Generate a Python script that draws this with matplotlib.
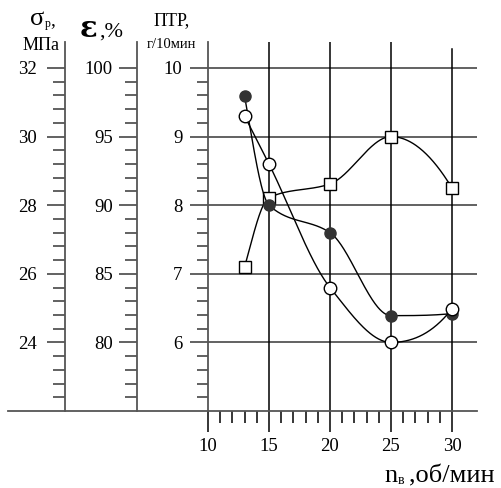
import numpy as np
import matplotlib
matplotlib.use("Agg")
import matplotlib.pyplot as plt
from matplotlib.lines import Line2D

plt.rcParams['font.family'] = ['Liberation Serif', 'DejaVu Serif']

# ---- data ----
n_rpm = [13, 15, 20, 25, 30]
sigma_vals = [31.18, 28.0, 27.2, 24.78, 24.84]   # filled circles, МПа
eps_vals = [96.5, 93.0, 84.0, 80.0, 82.45]       # open circles, %
ptr_vals = [7.1, 8.11, 8.31, 9.0, 8.25]          # squares, г/10мин

x_ticks = [10, 15, 20, 25, 30]
sigma_ticks = [24, 26, 28, 30, 32]
eps_ticks = [80, 85, 90, 95, 100]
ptr_ticks = [6, 7, 8, 9, 10]


def pchip(x, y, xs):
    x = np.asarray(x, float); y = np.asarray(y, float)
    h = np.diff(x); d = np.diff(y) / h
    n = len(x); m = np.zeros(n)
    for k in range(1, n - 1):
        if d[k - 1] * d[k] <= 0:
            m[k] = 0
        else:
            w1 = 2 * h[k] + h[k - 1]; w2 = h[k] + 2 * h[k - 1]
            m[k] = (w1 + w2) / (w1 / d[k - 1] + w2 / d[k])

    def endp(h0, h1, d0, d1):
        mm = ((2 * h0 + h1) * d0 - h0 * d1) / (h0 + h1)
        if np.sign(mm) != np.sign(d0):
            mm = 0
        elif np.sign(d0) != np.sign(d1) and abs(mm) > 3 * abs(d0):
            mm = 3 * d0
        return mm
    m[0] = endp(h[0], h[1], d[0], d[1])
    m[-1] = endp(h[-1], h[-2], d[-1], d[-2])
    ys = np.empty_like(xs)
    for i, xv in enumerate(xs):
        k = min(max(np.searchsorted(x, xv) - 1, 0), n - 2)
        t = (xv - x[k]) / h[k]
        h00 = 2 * t**3 - 3 * t**2 + 1; h10 = t**3 - 2 * t**2 + t
        h01 = -2 * t**3 + 3 * t**2; h11 = t**3 - t**2
        ys[i] = h00 * y[k] + h10 * h[k] * m[k] + h01 * y[k + 1] + h11 * h[k] * m[k + 1]
    return ys


W, H = 502, 488
fig = plt.figure(figsize=(W / 100, H / 100), dpi=100)

def fx(px): return px / W
def fy(py): return 1 - py / H

left_px, right_px, bot_px, top_px = 208, 477, 411, 42
rect = [fx(left_px), fy(bot_px), (right_px - left_px) / W, (bot_px - top_px) / H]
ax = fig.add_axes(rect)
ppu_x = 12.2
ppu_y = 68.6
ax.set_xlim(10, 10 + (right_px - left_px) / ppu_x)
ax.set_ylim(5, 5 + (bot_px - top_px) / ppu_y)

gray = '#555555'
for v in ptr_ticks:
    ax.axhline(v, color=gray, lw=1.3, zorder=1)
for xv in x_ticks[1:]:
    ymax = 1.0 if xv != 30 else (bot_px - 49) / (bot_px - top_px)
    ax.axvline(xv, ymin=0, ymax=ymax, color='black', lw=1.1, zorder=1)

for s in ['top', 'right', 'bottom']:
    ax.spines[s].set_visible(False)
ax.spines['left'].set_color(gray)
ax.spines['left'].set_linewidth(1.3)

ax.set_xticks(x_ticks)
ax.set_xticks([v for v in range(11, 30) if v % 5], minor=True)
ax.tick_params(axis='x', which='major', direction='out', length=15, width=1.1,
               color='black', labelsize=13.5, pad=4.5)
ax.tick_params(axis='x', which='minor', direction='out', length=8.6, width=1.1, color='black')

ax.set_yticks(ptr_ticks)
ax.set_yticks([round(5 + 0.2 * i, 1) for i in range(1, 25) if (i % 5)], minor=True)
ax.tick_params(axis='y', which='major', direction='out', length=13, width=1.3,
               color=gray, labelsize=13.5, pad=5.5)
ax.tick_params(axis='y', which='minor', direction='out', length=8, width=1.3, color=gray)
ax.set_yticklabels([str(v) for v in ptr_ticks])

fig.add_artist(Line2D([fx(8), fx(477)], [fy(411), fy(411)], color=gray, lw=1.3,
                      transform=fig.transFigure))


def make_side(offset_px, lo, upv, ticks, minor_step, pad):
    a = ax.twinx()
    a.set_ylim(lo, upv)
    a.yaxis.tick_left()
    a.yaxis.set_label_position('left')
    for s in ['top', 'right', 'bottom']:
        a.spines[s].set_visible(False)
    a.spines['left'].set_position(('outward', offset_px * 0.72))
    a.spines['left'].set_color(gray)
    a.spines['left'].set_linewidth(1.3)
    a.set_yticks(ticks)
    mins = []
    v = lo + minor_step
    while v < ticks[-1] + 1e-9:
        if all(abs(v - t) > 1e-6 for t in ticks):
            mins.append(v)
        v += minor_step
    a.set_yticks(mins, minor=True)
    a.tick_params(axis='y', which='major', direction='out', length=13, width=1.3,
                  color=gray, labelsize=13.5, pad=pad)
    a.tick_params(axis='y', which='minor', direction='out', length=8.6, width=1.3, color=gray)
    a.set_yticklabels([str(t) for t in ticks])
    return a

span = (bot_px - top_px)
ax_s = make_side(left_px - 65, 22, 22 + span / (ppu_y / 2), sigma_ticks, 0.4, 7)
ax_e = make_side(left_px - 137, 75, 75 + span / (ppu_y / 5), eps_ticks, 1.0, 4.5)

xs = np.linspace(13, 30, 300)
ax_s.plot(xs, pchip(n_rpm, sigma_vals, xs), color='black', lw=1.0, zorder=3)
ax_s.plot(n_rpm, sigma_vals, 'o', color='#333333', ms=8, zorder=4)
ax_e.plot(xs, pchip(n_rpm, eps_vals, xs), color='black', lw=1.0, zorder=3)
ax_e.plot(n_rpm, eps_vals, 'o', mfc='white', mec='black', mew=1.0, ms=9, zorder=4)
ax.plot(xs, pchip(n_rpm, ptr_vals, xs), color='black', lw=1.0, zorder=3)
ax.plot(n_rpm, ptr_vals, 's', mfc='white', mec='black', mew=1.0, ms=8.5, zorder=4)

# axis titles
fig.text(fx(30), fy(25), 'σ', fontsize=19, ha='left', va='baseline')
fig.text(fx(45), fy(27), 'р', fontsize=8.5, ha='left', va='baseline')
fig.text(fx(50), fy(25), ',', fontsize=14, ha='left', va='baseline')
fig.text(fx(60), fy(50), 'МПа', fontsize=13, ha='right', va='baseline')
fig.text(fx(80), fy(37), 'ε', fontsize=21, ha='left', va='baseline',
         family=['DejaVu Serif'], fontweight='bold')
fig.text(fx(99), fy(37), ',%', fontsize=16, ha='left', va='baseline')
fig.text(fx(154), fy(25), 'ПТР,', fontsize=13, ha='left', va='baseline')
fig.text(fx(147), fy(48), 'г/10мин', fontsize=10.5, ha='left', va='baseline')

fig.text(fx(384), fy(482), 'n', fontsize=19, ha='left', va='baseline')
fig.text(fx(398), fy(484), 'в', fontsize=10, ha='left', va='baseline')
fig.text(fx(409), fy(482), ',об/мин', fontsize=19, ha='left', va='baseline')

fig.savefig('out.png', dpi=100)
